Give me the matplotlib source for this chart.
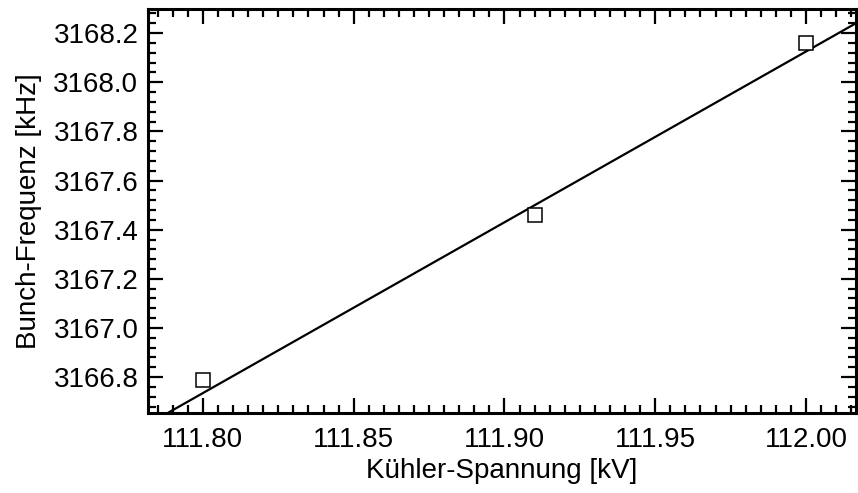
import numpy as np
import matplotlib
matplotlib.use("Agg")
import matplotlib.pyplot as plt
from matplotlib.ticker import MultipleLocator, FormatStrFormatter

# Measured bunch frequency versus cooler voltage
voltage_kv = [111.80, 111.91, 112.00]
frequency_khz = [3166.79, 3167.46, 3168.16]

# Straight-line model f = f0 + slope * (U - U0)
fit_u0_kv = 111.90
fit_f0_khz = 3167.43
fit_slope_khz_per_kv = 6.95

plt.rcParams["font.family"] = ["Liberation Sans", "DejaVu Sans"]

fig = plt.figure(figsize=(8.58, 4.93), dpi=100)
ax = fig.add_axes([0.1725, 0.1623, 0.8252, 0.8194])

xlim = (111.7818, 112.0166)
xfit = np.linspace(xlim[0], xlim[1], 200)
ax.plot(xfit, fit_f0_khz + fit_slope_khz_per_kv * (xfit - fit_u0_kv),
        color="black", lw=1.6)

ax.plot(voltage_kv, frequency_khz, linestyle="none", marker="s",
        markersize=9.5, markerfacecolor="white", markeredgecolor="black",
        markeredgewidth=1.1)

ax.set_xlim(*xlim)
ax.set_ylim(3166.654, 3168.298)

ax.xaxis.set_major_locator(MultipleLocator(0.05))
ax.xaxis.set_minor_locator(MultipleLocator(0.005))
ax.xaxis.set_major_formatter(FormatStrFormatter("%.2f"))
ax.yaxis.set_major_locator(MultipleLocator(0.2))
ax.yaxis.set_minor_locator(MultipleLocator(0.04))
ax.yaxis.set_major_formatter(FormatStrFormatter("%.1f"))

for sp in ax.spines.values():
    sp.set_linewidth(2.2)

ax.tick_params(which="both", direction="in", top=True, right=True,
               width=1.6, labelsize=20)
ax.tick_params(which="major", length=11)
ax.tick_params(which="minor", length=5.5)
ax.tick_params(axis="x", which="major", pad=10)
ax.tick_params(axis="y", which="major", pad=7)

ax.set_xlabel("Kühler-Spannung [kV]", fontsize=20, labelpad=4)
ax.set_ylabel("Bunch-Frequenz [kHz]", fontsize=20, labelpad=8)

fig.savefig("out.png", dpi=100)
